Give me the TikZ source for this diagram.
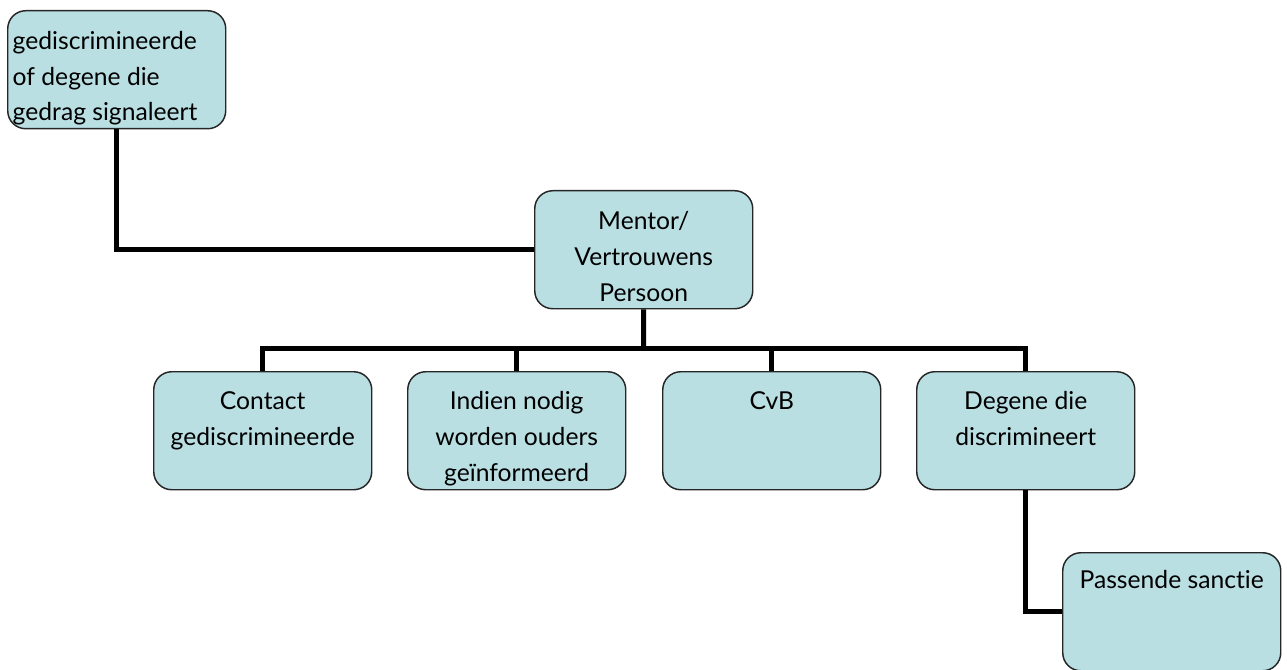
\documentclass[tikz,border=0pt]{standalone}
\usepackage{fontspec}
\setmainfont{Lato}[Ligatures=NoCommon]
\definecolor{boxfill}{HTML}{B9DFE3}
% text block of a box: fixed size, lines hung from the top
\newcommand\orgtext[2][28.5pt]{%
  \parbox[t][88.5pt][t]{163.5pt}{\fontsize{18.5}{27}\selectfont\centering\rule{0pt}{#1}#2}}
\newcommand\orgtextleft[1]{%
  \parbox[t][88.5pt][t]{163.5pt}{\fontsize{18.5}{26.5}\selectfont\raggedright
    \leftskip=3.75pt\rule{0pt}{29.25pt}#1}}
\tikzset{
  orgbox/.style={draw=black!85, line width=1.1pt, fill=boxfill,
    rounded corners=13.5pt, inner sep=0pt, anchor=north west},
  link/.style={line width=3.75pt, line join=miter}
}
\begin{document}
\begin{tikzpicture}[x=0.75pt, y=-0.75pt]
\useasboundingbox (0,0) rectangle (1287,670);

% boxes
\node[orgbox] (tl) at (7,10) {\orgtextleft{gediscrimineerde\\of degene die\\gedrag signaleert}};
\node[orgbox] (mentor) at (534,190) {\orgtext[29.25pt]{Mentor/\\Vertrouwens\\Persoon}};
\node[orgbox] (c1) at (153,371) {\orgtext{Contact\\gediscrimineerde}};
\node[orgbox] (c2) at (407,371) {\orgtext{Indien nodig\\worden ouders\\geïnformeerd}};
\node[orgbox] (c3) at (662,371) {\orgtext{CvB}};
\node[orgbox] (c4) at (916,371) {\orgtext{Degene die\\discrimineert}};
\node[orgbox] (pass) at (1062,552) {\orgtext[27pt]{Passende sanctie}};

% connectors
\coordinate (bus) at (643.5,348);
\draw[link] (tl.south) |- (mentor.west);
\draw[link] (mentor.south) -- (bus);
\draw[link] (c1.north) |- (bus) -| (c4.north);
\draw[link] (c2.north) -- (c2.north |- bus);
\draw[link] (c3.north) -- (c3.north |- bus);
\draw[link] (c4.south) |- (pass.west);
\end{tikzpicture}
\end{document}
